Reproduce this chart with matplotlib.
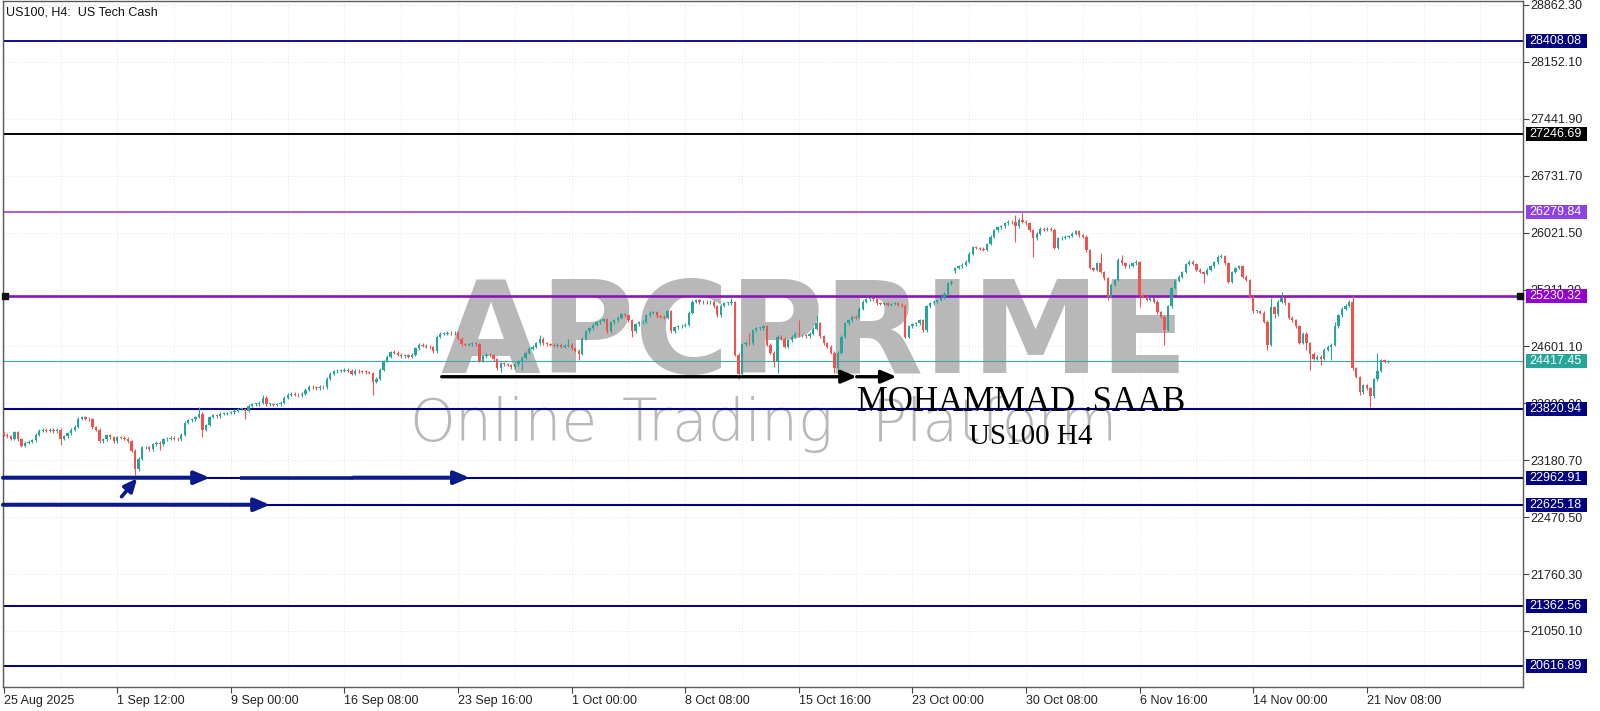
import matplotlib
matplotlib.use('Agg')
import matplotlib.pyplot as plt
import matplotlib.transforms as mtransforms
from matplotlib.patches import Rectangle
import numpy as np

plt.rcParams['font.family'] = ['Liberation Sans', 'DejaVu Sans']

# ---------------- data ----------------
TITLE = 'US100, H4:  US Tech Cash'
FIRST_OPEN = 23520
CLOSES = [
    23500, 23480, 23450, 23530, 23440, 23360, 23400, 23410, 23430, 23500,
    23550, 23560, 23550, 23560, 23540, 23560, 23450, 23480, 23520, 23560,
    23600, 23700, 23720, 23700, 23690, 23590, 23560, 23420, 23440, 23490,
    23470, 23420, 23470, 23460, 23450, 23420, 23300, 23070, 23200, 23340,
    23340, 23320, 23380, 23400, 23380, 23440, 23450, 23460, 23450, 23440,
    23500, 23650, 23680, 23690, 23720, 23760, 23560, 23620, 23720, 23740,
    23730, 23760, 23760, 23770, 23780, 23800, 23820, 23820, 23800, 23860,
    23880, 23880, 23900, 23960, 23880, 23880, 23870, 23880, 23900, 23960,
    24000, 24010, 24000, 23990, 24010, 24060, 24100, 24090, 24080, 24100,
    24090, 24200, 24260, 24290, 24300, 24300, 24310, 24300, 24260, 24300,
    24290, 24285, 24280, 24270, 24160, 24200, 24310, 24420, 24470, 24530,
    24520, 24500, 24480, 24490, 24470, 24500, 24580, 24620, 24610, 24600,
    24590, 24540, 24720, 24760, 24760, 24770, 24765, 24775, 24700, 24630,
    24620, 24630, 24640, 24630, 24420, 24480, 24500, 24490, 24440, 24330,
    24390, 24380, 24370, 24340, 24380, 24420, 24460, 24520, 24570, 24600,
    24640, 24700, 24640, 24630, 24620, 24610, 24620, 24600, 24610, 24620,
    24580, 24550, 24510, 24700, 24790, 24830, 24870, 24900, 24920, 24940,
    24790, 24900, 24930, 24960, 25000, 24990, 24930, 24790, 24880, 24900,
    24910, 24990, 25020, 25030, 24980, 24970, 24960, 25040, 24790, 24840,
    24850, 24860, 24870, 25020, 25160, 25180, 25150, 25160, 25150, 25160,
    25100, 24990, 25110, 25140, 25140, 25150, 24500, 24260, 24630, 24650,
    24640, 24800, 24830, 24830, 24850, 24620, 24520, 24410, 24720, 24700,
    24600, 24680, 24720, 24760, 24740, 24740, 24730, 24760, 24820, 24890,
    24730, 24640, 24600, 24520, 24330, 24520, 24720, 24890, 24930, 24970,
    24960, 25070, 25160, 25190, 25200, 25190, 25140, 25130, 25140, 25120,
    25130, 25140, 25120, 25110, 24720, 24850, 24880, 24890, 24930, 24800,
    25100, 25140, 25160, 25180, 25210, 25260, 25390, 25410, 25580, 25600,
    25620, 25660, 25760, 25840, 25830, 25820, 25810, 25880, 25970, 26050,
    26090, 26100, 26140, 26160, 26150, 26100, 26180, 26160, 26140, 26050,
    25950, 26010, 26070, 26060, 26070, 26060, 25830, 25950, 25960, 25970,
    25980, 26010, 26040, 25990, 25970, 25800, 25580, 25560, 25640, 25530,
    25450, 25220, 25370, 25430, 25680, 25640, 25600, 25610, 25640, 25650,
    25240, 25220, 25180, 25200, 25160, 25030, 24970, 24810, 25100, 25330,
    25420, 25470, 25530, 25630, 25660, 25630, 25560, 25530, 25510, 25560,
    25600, 25650, 25720, 25730, 25640, 25410, 25530, 25580, 25600, 25470,
    25430, 25220, 25040, 25040, 25020, 24910, 24620, 25090, 25000, 25160,
    25200, 25140, 24960, 24930, 24850, 24650, 24760, 24640, 24510, 24450,
    24470, 24450, 24560, 24600, 24620, 24850, 24990, 25070, 25110, 25160,
    24330, 24220, 24030, 24120, 24080, 23980, 24190, 24300, 24430, 24410,
    24417.45,
]
GAP_OPENS = {268: 25540}
HIGHS = {55: 23850, 73: 24000, 110: 24557, 151: 24740, 159: 24700, 205: 25200,
         210: 24765, 224: 24931, 229: 24993, 285: 26240, 287: 26262, 302: 26060,
         309: 25763, 314: 25700, 315: 25742, 319: 25680, 343: 25750, 357: 25200,
         360: 25280, 375: 24910, 380: 25240, 387: 24515}
LOWS = {16: 23370, 37: 23000, 44: 23310, 56: 23470, 68: 23700, 104: 23995,
        140: 24288, 146: 24307, 162: 24432, 177: 24723, 207: 24200, 217: 24349,
        218: 24265, 234: 24265, 285: 25908, 290: 25721, 311: 25180, 320: 25098,
        327: 24620, 338: 25389, 345: 25395, 356: 24557, 358: 24950, 367: 24557,
        368: 24307, 371: 24370, 374: 24430, 382: 24000, 385: 23850}

YTICKS = [21050.10, 21760.30, 22470.50, 23180.70, 23890.90, 24601.10,
          25311.30, 26021.50, 26731.70, 27441.90, 28152.10, 28862.30]
XTICK_BARS = [0, 32, 64, 96, 128, 160, 192, 224, 256, 288, 320, 352, 384]
XTICK_LABELS = ['25 Aug 2025', '1 Sep 12:00', '9 Sep 00:00', '16 Sep 08:00',
                '23 Sep 16:00', '1 Oct 00:00', '8 Oct 08:00', '15 Oct 16:00',
                '23 Oct 00:00', '30 Oct 08:00', '6 Nov 16:00', '14 Nov 00:00',
                '21 Nov 08:00']

LEVELS = [28408.08, 27246.69, 26279.84, 25230.32, 24417.45,
          23820.94, 22962.91, 22625.18, 21362.56, 20616.89]
LEVEL_COLORS = ['#000080', '#000000', '#9a3fe0', '#8a12c4', '#3aab9f',
                '#000080', '#000080', '#000080', '#000080', '#000080']
LEVEL_BOX = ['#000080', '#000000', '#8c42e6', '#9400d3', '#26a69a',
             '#000080', '#000080', '#000080', '#000080', '#000080']
LEVEL_LW = [1.3, 1.4, 1.2, 1.9, 0.8, 1.5, 1.5, 1.5, 1.4, 1.4]

# arrows: (start bar, end bar, price)
BLACK_ARROWS = [(123.4, 240.3, 24223), (240.3, 251.5, 24223)]
NAVY_ARROWS = [(-0.2, 58.1, 22962.91), (98.4, 131.3, 22962.91), (-0.2, 75.0, 22625.18)]
NAVY_SEGMENTS = [(66.6, 98.4, 22962.91)]
DIAG_ARROW = ((33.2, 22726), (37.6, 22955))

WATERMARK = 'APCPRIME'
SUBMARK_WORDS = ['Online', 'Trading', 'Platform']

GREEN = '#26a69a'
RED = '#ef5350'

# ---------------- figure ----------------
W, H = 1600, 711
fig = plt.figure(figsize=(W / 100, H / 100), dpi=100)
fig.patch.set_facecolor('white')
AX_L, AX_R, AX_T, AX_B = 3, 1523, 1, 687
ax = fig.add_axes([AX_L / W, 1 - AX_B / H, (AX_R - AX_L) / W, (AX_B - AX_T) / H])
ax.set_xlim(-0.2, 428.0)
ax.set_ylim(20351, 28912)


def ax_x(px):
    return (px - AX_L) / (AX_R - AX_L)


def ax_y(py):
    return (AX_B - py) / (AX_B - AX_T)


# grid
for b in range(0, 430, 16):
    ax.axvline(b, color='#e3e3e3', lw=0.7, ls=(0, (1, 2)), zorder=0)
for v in YTICKS:
    ax.axhline(v, color='#e3e3e3', lw=0.7, ls=(0, (1, 2)), zorder=0)

# watermark
ax.text(ax_x(440), ax_y(373), WATERMARK, transform=ax.transAxes, ha='left', va='baseline',
        fontsize=93, fontfamily=['DejaVu Sans'], fontweight='bold', color='#b8b8b8',
        zorder=0.5)
for word, px in zip(SUBMARK_WORDS, [409, 622, 872]):
    ax.text(ax_x(px), ax_y(441), word, transform=ax.transAxes, ha='left',
            va='baseline', fontsize=42, fontfamily=['DejaVu Sans'], fontweight='light',
            color='#b8b8b8', zorder=0.5)

# candles
closes = np.array(CLOSES, float)
opens = np.r_[FIRST_OPEN, closes[:-1]]
for k, v in GAP_OPENS.items():
    opens[k] = v
idx = np.arange(len(closes))
hi = np.maximum(opens, closes) + 18
lo = np.minimum(opens, closes) - 18
for k, v in HIGHS.items():
    hi[k] = max(hi[k], v)
for k, v in LOWS.items():
    lo[k] = min(lo[k], v)
up = closes >= opens
cols = np.where(up, GREEN, RED)
ax.vlines(idx, lo, hi, colors=cols, lw=0.8, zorder=3)
ax.bar(idx, np.maximum(np.abs(closes - opens), 10), bottom=np.minimum(opens, closes),
       width=0.65, color=cols, linewidth=0, zorder=3)

# horizontal levels
for v, c, lw in zip(LEVELS, LEVEL_COLORS, LEVEL_LW):
    ax.axhline(v, color=c, lw=lw, zorder=2)
ax.plot([0.37, 427.2], [LEVELS[3], LEVELS[3]], ls='none', marker='s', ms=4.2,
        color='#111111', clip_on=False, zorder=6)

# arrows
for x0, x1, y in BLACK_ARROWS:
    ax.annotate('', xy=(x1, y), xytext=(x0, y),
                arrowprops=dict(arrowstyle='-|>,head_length=1.3,head_width=0.55', mutation_scale=7,
                                lw=2.4, color='black', shrinkA=0, shrinkB=0), zorder=7)
for x0, x1, y in NAVY_ARROWS:
    ax.annotate('', xy=(x1, y), xytext=(x0, y),
                arrowprops=dict(arrowstyle='-|>,head_length=1.3,head_width=0.55', mutation_scale=7,
                                lw=2.9, color='#0a1a8a', shrinkA=0, shrinkB=0), zorder=7)
for x0, x1, y in NAVY_SEGMENTS:
    ax.plot([x0, x1], [y, y], color='#0a1a8a', lw=2.6, solid_capstyle='butt', zorder=7)
(dx0, dy0), (dx1, dy1) = DIAG_ARROW
ax.annotate('', xy=(dx1, dy1), xytext=(dx0, dy0),
            arrowprops=dict(arrowstyle='-|>,head_length=1.1,head_width=0.5', mutation_scale=7,
                            lw=2.6, color='#0a1a8a', shrinkA=0, shrinkB=0), zorder=7)

# signature texts
ax.text(ax_x(857), ax_y(411), 'MOHAMMAD .SAAB', transform=ax.transAxes, ha='left', va='baseline',
        fontsize=25, fontfamily=['Liberation Serif', 'DejaVu Serif'], color='black', zorder=8)
ax.text(ax_x(969), ax_y(444), 'US100 H4', transform=ax.transAxes, ha='left', va='baseline',
        fontsize=21, fontfamily=['Liberation Serif', 'DejaVu Serif'], color='black', zorder=8)

# axes styling
for s in ax.spines.values():
    s.set_color('#5a5a5a')
    s.set_linewidth(1.0)
ax.yaxis.tick_right()
ax.set_yticks(YTICKS)
ax.set_yticklabels([f'{v:.2f}' for v in YTICKS])
ax.set_xticks(XTICK_BARS)
ax.set_xticklabels(XTICK_LABELS)
for t in ax.get_xticklabels():
    t.set_ha('left')
ax.tick_params(axis='y', direction='out', length=4, width=0.8, color='#444444', pad=1.5,
               labelsize=9, labelcolor='#222222')
ax.tick_params(axis='x', direction='out', length=4, width=0.8, color='#444444', pad=2,
               labelsize=9, labelcolor='#222222')

# price label boxes
blend = mtransforms.blended_transform_factory(ax.transAxes, ax.transData)
box_h = 14 * 12.48
for v, bc in zip(LEVELS, LEVEL_BOX):
    ax.add_patch(Rectangle((ax_x(1526.5), v - box_h / 2), ax_x(1586.7) - ax_x(1526.5), box_h,
                           transform=blend, facecolor=bc, edgecolor='none', clip_on=False, zorder=9))
    ax.text(ax_x(1529), v, f'{v:.2f}', transform=blend, ha='left', va='center', fontsize=9,
            color='white', clip_on=False, zorder=10)

fig.text(6 / W, 1 - 12.5 / H, TITLE, ha='left', va='center', fontsize=9, color='#111111')

fig.savefig('out.png', dpi=100, facecolor='white')
